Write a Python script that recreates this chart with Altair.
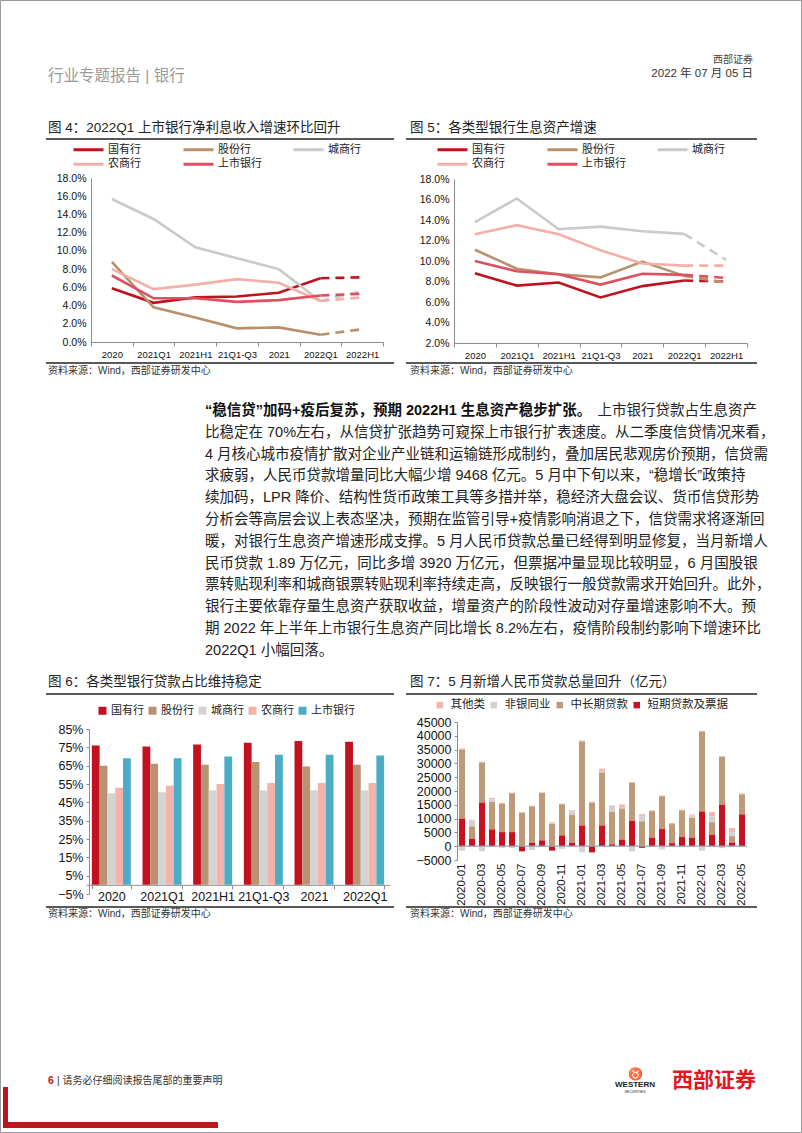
import altair as alt
import pandas as pd

W, H = 802, 1133
FONT = "'Liberation Sans', 'Noto Sans CJK SC', sans-serif"
one = pd.DataFrame({"k": [0]})

# ---------------- data ----------------
periods = ["2020", "2021Q1", "2021H1", "21Q1-Q3", "2021", "2022Q1", "2022H1"]
banks = ["国有行", "股份行", "城商行", "农商行", "上市银行"]
line_colors = ["#C0121E", "#B8916C", "#CACACA", "#F2B0A6", "#DE4F62"]

# 图4 net interest income growth (%)
nii_state = [5.9, 4.3, 4.9, 5.0, 5.4, 7.0, 7.1]
nii_joint = [8.8, 3.8, 2.7, 1.5, 1.6, 0.8, 1.4]
nii_city = [15.7, 13.5, 10.4, 9.2, 8.0, 4.5, 5.6]
nii_rural = [8.0, 5.8, 6.3, 6.9, 6.5, 4.5, 4.9]
nii_listed = [7.3, 4.8, 4.8, 4.4, 4.6, 5.1, 5.3]

# 图5 interest-earning asset growth (%)
ia_state = [8.8, 7.6, 7.9, 6.45, 7.55, 8.1, 8.0]
ia_joint = [11.1, 9.25, 8.7, 8.4, 9.95, 8.55, 7.9]
ia_city = [13.8, 16.1, 13.1, 13.35, 12.9, 12.65, 10.1]
ia_rural = [12.6, 13.5, 12.6, 11.05, 9.75, 9.55, 9.55]
ia_listed = [10.0, 9.0, 8.7, 7.7, 8.75, 8.65, 8.35]

# 图6 loan share (%)
cats6 = ["2020", "2021Q1", "2021H1", "21Q1-Q3", "2021", "2022Q1"]
bar_colors = ["#C3121F", "#BA9270", "#D3D3D3", "#F2B4AA", "#4BACC6"]
loan_state = [76, 75.5, 76.5, 77.5, 78.5, 78]
loan_joint = [65, 66, 65.5, 67, 64.5, 65.5]
loan_city = [50, 50.5, 51.5, 51.5, 51.5, 51.5]
loan_rural = [53, 54, 55, 55.5, 55.5, 55.5]
loan_listed = [69, 69, 70, 71, 71, 70.5]

# 图7 new RMB loans (亿元)
months = ["2020-01", "2020-02", "2020-03", "2020-04", "2020-05", "2020-06", "2020-07", "2020-08",
          "2020-09", "2020-10", "2020-11", "2020-12", "2021-01", "2021-02", "2021-03", "2021-04",
          "2021-05", "2021-06", "2021-07", "2021-08", "2021-09", "2021-10", "2021-11", "2021-12",
          "2022-01", "2022-02", "2022-03", "2022-04", "2022-05"]
loan_types = ["其他类", "非银同业", "中长期贷款", "短期贷款及票据"]
type_colors = ["#F2B6AE", "#D2D2D2", "#BE9A78", "#C8101E"]
short_term = [10000, 2700, 15800, 6100, 5100, 5100, -1800, 1200, 2100, -1600, 3900, 1200, 7500, -2200,
              7500, 700, 2400, 9200, -600, 3000, 6200, 1100, 3300, 3000, 12600, 4100, 15000, 1300, 11500]
mid_long = [25000, 4500, 14500, 9900, 10200, 14100, 12100, 13250, 17200, 8100, 11300, 10200, 30400, 15800,
            19200, 11700, 11200, 13700, 9000, 9700, 11900, 6900, 9700, 7200, 28900, 4600, 17400, 2300, 7300]
non_bank = [-1600, 2200, -1800, 1000, -700, -700, -300, -1400, -300, 400, -1000, 1500, -2200, -300,
            300, 2200, 300, -1900, 1900, -300, -1200, -200, -200, 1000, -1600, 2100, 300, 1500, -300]
other = [400, 200, 300, 500, 400, 200, 200, 200, 200, 200, 200, 200, 400, 300,
         1100, 200, 1200, 300, 700, 300, 200, 400, 200, 300, 300, 1600, -700, 1500, 300]

body_lines = [
    "比稳定在 70%左右，从信贷扩张趋势可窥探上市银行扩表速度。从二季度信贷情况来看，",
    "4 月核心城市疫情扩散对企业产业链和运输链形成制约，叠加居民悲观房价预期，信贷需",
    "求疲弱，人民币贷款增量同比大幅少增 9468 亿元。5 月中下旬以来，“稳增长”政策持",
    "续加码，LPR 降价、结构性货币政策工具等多措并举，稳经济大盘会议、货币信贷形势",
    "分析会等高层会议上表态坚决，预期在监管引导+疫情影响消退之下，信贷需求将逐渐回",
    "暖，对银行生息资产增速形成支撑。5 月人民币贷款总量已经得到明显修复，当月新增人",
    "民币贷款 1.89 万亿元，同比多增 3920 万亿元，但票据冲量显现比较明显，6 月国股银",
    "票转贴现利率和城商银票转贴现利率持续走高，反映银行一般贷款需求开始回升。此外，",
    "银行主要依靠存量生息资产获取收益，增量资产的阶段性波动对存量增速影响不大。预",
    "期 2022 年上半年上市银行生息资产同比增长 8.2%左右，疫情阶段制约影响下增速环比",
    "2022Q1 小幅回落。",
]
body_first_bold = "“稳信贷”加码+疫后复苏，预期 2022H1 生息资产稳步扩张。"
body_first_rest = "上市银行贷款占生息资产"

layers = []


def T(s, x, y, size=12, color="#222", align="left", weight="normal", baseline="middle"):
    layers.append(alt.Chart(one).mark_text(
        text=s, align=align, baseline=baseline, fontSize=size, color=color,
        fontWeight=weight, font=FONT).encode(x=alt.value(x), y=alt.value(y)))


def R(x1, y1, x2, y2, color="#333", width=1.0):
    layers.append(alt.Chart(one).mark_rule(color=color, strokeWidth=width).encode(
        x=alt.value(x1), y=alt.value(y1), x2=alt.value(x2), y2=alt.value(y2)))


def B(x1, y1, x2, y2, color):
    layers.append(alt.Chart(one).mark_rect(color=color).encode(
        x=alt.value(x1), y=alt.value(y1), x2=alt.value(x2), y2=alt.value(y2)))


# page frame
layers.append(alt.Chart(one).mark_rect(filled=False, stroke="#9a9a9a", strokeWidth=1).encode(
    x=alt.value(0.5), y=alt.value(0.5), x2=alt.value(801.5), y2=alt.value(1132.5)))

# header
T("行业专题报告 | 银行", 48, 76, size=15.5, color="#9a9a9a")
T("西部证券", 753, 60, size=10, color="#444", align="right")
T("2022 年 07 月 05 日", 753, 74, size=11.5, color="#333", align="right")

AX = dict(domainColor="#8c8c8c", tickColor="#8c8c8c", labelFont=FONT, labelColor="#111", grid=False, title=None)


def line_legend(lx, ly):
    return alt.Legend(orient="none", legendX=lx, legendY=ly, columns=3, gridAlign="each", direction="horizontal",
                      symbolType="stroke", symbolSize=900, symbolStrokeWidth=3, labelFont=FONT, labelFontSize=11,
                      labelColor="#222", columnPadding=36, labelOffset=3, padding=0, title=None)


def line_panel(series, x0, x1, ytop, ybot, dom, ticks, lx, ly):
    rows = [dict(per=p, idx=i, bank=b, val=v)
            for b, vs in zip(banks, series) for i, (p, v) in enumerate(zip(periods, vs))]
    df = pd.DataFrame(rows)
    xs = alt.Scale(type="band", domain=periods, range=[x0, x1], paddingInner=0, paddingOuter=0)
    ys = alt.Scale(domain=dom, range=[ybot, ytop], nice=False, zero=False)
    xax = alt.Axis(orient="bottom", offset=ybot - H, tickBand="extent", labelAngle=0, labelOverlap=False,
                   labelFontSize=9.5, labelPadding=3, tickSize=4, **AX)
    yax = alt.Axis(orient="left", offset=-x0, values=ticks, labelExpr="format(datum.value, '.1f') + '%'",
                   labelFontSize=10.5, labelPadding=5, tickSize=0, **AX)
    solid_df = df[df["per"] != "2022H1"]
    # dashed forecast segments (drawn first, no legend)
    layers.append(alt.Chart(df[df["per"].isin(["2022Q1", "2022H1"])]).mark_line(strokeWidth=2.6, strokeDash=[9, 6]).encode(
        x=alt.X("per:N", scale=xs, axis=xax, bandPosition=0.5),
        y=alt.Y("val:Q", scale=ys, axis=yax),
        color=alt.Color("bank:N", scale=alt.Scale(domain=banks, range=line_colors), legend=None),
        order=alt.Order("idx:Q")))
    # solid lines, split in two groups so the legend gets two compact rows
    for grp, cols, lyy in [(banks[:3], line_colors[:3], ly), (banks[3:], line_colors[3:], ly + 14.5)]:
        layers.append(alt.Chart(solid_df[solid_df["bank"].isin(grp)]).mark_line(strokeWidth=2.6).encode(
            x=alt.X("per:N", scale=xs, axis=None, bandPosition=0.5),
            y=alt.Y("val:Q", scale=ys, axis=None),
            color=alt.Color("bank:N", scale=alt.Scale(domain=grp, range=cols), legend=line_legend(lx, lyy)),
            order=alt.Order("idx:Q")))


# ---------- 图4 ----------
T("图 4：2022Q1 上市银行净利息收入增速环比回升", 48, 128, size=13.5, color="#222")
R(46, 139, 394, 139, color="#222", width=1.3)
line_panel([nii_state, nii_joint, nii_city, nii_rural, nii_listed], 91, 383, 178, 342,
           [0, 18], list(range(0, 19, 2)), 72, 133)
R(46, 363, 394, 363, color="#222", width=1.3)
T("资料来源：Wind，西部证券研发中心", 48, 370.5, size=10, color="#333")

# ---------- 图5 ----------
T("图 5：各类型银行生息资产增速", 410, 128, size=13.5, color="#222")
R(406, 139, 757, 139, color="#222", width=1.3)
line_panel([ia_state, ia_joint, ia_city, ia_rural, ia_listed], 454, 747, 179, 343,
           [2, 18], list(range(2, 19, 2)), 436, 133)
R(406, 363, 757, 363, color="#222", width=1.3)
T("资料来源：Wind，西部证券研发中心", 410, 370.5, size=10, color="#333")

# ---------- body text ----------
y0, dy = 411, 21.8
T(body_first_bold, 205, y0, size=14.5, color="#111", weight="bold")
T(body_first_rest, 757, y0, size=14.5, color="#222", align="right")
for i, line in enumerate(body_lines):
    T(line, 205, y0 + dy * (i + 1), size=14.5, color="#222")

# ---------- 图6 ----------
T("图 6：各类型银行贷款占比维持稳定", 48, 682, size=13.5, color="#222")
R(46, 694, 394, 694, color="#222", width=1.3)
rows6 = [dict(cat=c, bank=b, val=v)
         for b, vs in zip(banks, [loan_state, loan_joint, loan_city, loan_rural, loan_listed])
         for c, v in zip(cats6, vs)]
df6 = pd.DataFrame(rows6)
y6 = alt.Scale(domain=[-5, 85], range=[894, 729], nice=False)
zero6 = 894 - 5 * (894 - 729) / 90
bars6 = alt.Chart(df6).mark_bar().encode(
    x=alt.X("cat:N", scale=alt.Scale(type="band", domain=cats6, range=[86, 390], paddingInner=0.23, paddingOuter=0.115),
            axis=alt.Axis(orient="bottom", offset=zero6 - H, tickBand="extent", labelAngle=0, labelOverlap=False,
                          labelFontSize=12.5, labelPadding=2, tickSize=4, **AX)),
    xOffset=alt.XOffset("bank:N", scale=alt.Scale(domain=banks, range=[0, 39.0], paddingInner=0, paddingOuter=0)),
    y=alt.Y("val:Q", scale=y6,
            axis=alt.Axis(orient="left", offset=-89, values=list(range(-5, 86, 10)),
                          labelExpr="format(datum.value, 'd') + '%'", labelFontSize=12.5, labelPadding=3,
                          tickSize=3, **AX)),
    color=alt.Color("bank:N", scale=alt.Scale(domain=banks, range=bar_colors),
                    legend=alt.Legend(orient="none", legendX=97, legendY=705, columns=5, direction="horizontal",
                                      symbolType="square", symbolSize=64, labelFont=FONT, labelFontSize=11,
                                      labelColor="#222", columnPadding=3, labelOffset=3, padding=0, title=None)))
layers.append(bars6)
R(46, 907, 394, 907, color="#222", width=1.3)
T("资料来源：Wind，西部证券研发中心", 48, 913.5, size=10, color="#333")

# ---------- 图7 ----------
T("图 7：5 月新增人民币贷款总量回升（亿元）", 410, 682, size=13.5, color="#222")
R(406, 694, 757, 694, color="#222", width=1.3)
rows7 = []
for t, vs, o in zip(loan_types, [other, non_bank, mid_long, short_term], [3, 2, 1, 0]):
    for m, v in zip(months, vs):
        rows7.append(dict(mon=m, typ=t, val=v, ord=o))
df7 = pd.DataFrame(rows7)
y7 = alt.Scale(domain=[-5000, 45000], range=[860, 722], nice=False)
bars7 = alt.Chart(df7).mark_bar().encode(
    x=alt.X("mon:N", scale=alt.Scale(type="band", domain=months, range=[457, 747], paddingInner=0.4, paddingOuter=0.2),
            axis=alt.Axis(orient="bottom", offset=861 - H, values=months[::2], labelAngle=270, labelOverlap=False,
                          labelFontSize=11.5, labelPadding=2, domain=False, ticks=False, **AX)),
    y=alt.Y("val:Q", scale=y7, stack="zero",
            axis=alt.Axis(orient="left", offset=-457, values=list(range(-5000, 45001, 5000)), format="d",
                          labelFontSize=12.5, labelPadding=3, tickSize=3, **AX)),
    color=alt.Color("typ:N", scale=alt.Scale(domain=loan_types, range=type_colors),
                    legend=alt.Legend(orient="none", legendX=434, legendY=699, columns=4, direction="horizontal",
                                      symbolType="square", symbolSize=42, labelFont=FONT, labelFontSize=11.5,
                                      labelColor="#222", columnPadding=3, labelOffset=5, padding=0, title=None)),
    order=alt.Order("ord:Q", sort="ascending"))
layers.append(bars7)
layers.append(alt.Chart(one).mark_rule(color="#8FA3B8", strokeWidth=1.3).encode(
    y=alt.YDatum(0, type="quantitative", scale=y7, axis=None),
    x=alt.value(457), x2=alt.value(747)))
R(406, 907, 757, 907, color="#222", width=1.3)
T("资料来源：Wind，西部证券研发中心", 410, 913.5, size=10, color="#333")

# ---------- footer ----------
T("6", 48, 1081, size=10.5, color="#C0141E", weight="bold")
T("| 请务必仔细阅读报告尾部的重要声明", 57, 1081, size=10, color="#333")
T("西部证券", 756, 1081, size=21, color="#E8141E", weight="bold", align="right")
T("♉", 635, 1074, size=12, color="#E8141E", align="center")
T("WESTERN", 635, 1085, size=8, color="#222", weight="bold", align="center")
T("SECURITIES", 635, 1092, size=3.5, color="#222", align="center")
B(3, 1087, 8, 1128, "#C0141E")
B(3, 1122, 218, 1128, "#C0141E")

chart = alt.layer(*layers).resolve_scale(
    x="independent", y="independent", color="independent", xOffset="independent"
).properties(width=W, height=H, padding=0, autosize="none", background="white").configure_view(strokeWidth=0)

chart.save("out.html", embed_options={"renderer": "svg", "actions": False})
